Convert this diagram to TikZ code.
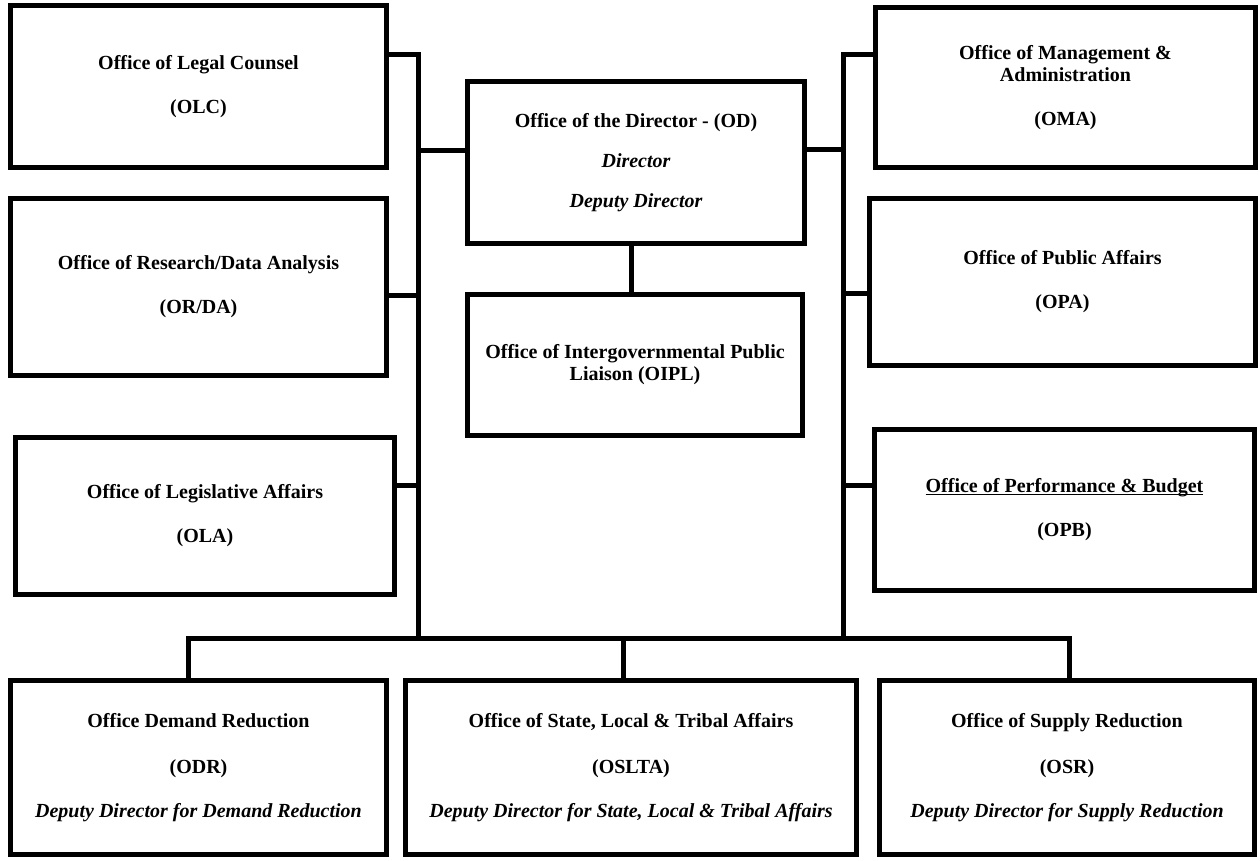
\documentclass[tikz,border=0pt]{standalone}
\usepackage{fontspec}
\setmainfont{Liberation Serif}
\usepackage{tikz}
\usetikzlibrary{positioning,calc}
\usepackage{xcolor}
\definecolor{ink}{HTML}{000000}
\definecolor{paper}{HTML}{FFFFFF}
\tikzset{
  office/.style={draw=ink,line width=5pt,fill=paper,align=center,inner sep=4pt,
    font=\fontsize{20}{22}\selectfont\bfseries},
  link/.style={draw=ink,line width=5pt},
  every node/.style={text=ink}
}

\begin{document}
\begin{tikzpicture}[x=1pt,y=-1pt]
\useasboundingbox (0,0) rectangle (1260,860);

% left column
\node[office,minimum width=376,minimum height=162] (olc) at (198.5,86.5) {Office of Legal Counsel\\[22pt](OLC)};
\node[office,minimum width=376,minimum height=177] (orda) at (198.5,287) {Office of Research/Data Analysis\\[22pt](OR/DA)};
\node[office,minimum width=379,minimum height=157] (ola) at (205,516) {Office of Legislative Affairs\\[22pt](OLA)};

% centre column
\node[office,minimum width=337,minimum height=162] (od) at (636,162.5) {Office of the Director - (OD)\\[18pt]\itshape Director\\[18pt]\itshape Deputy Director};
\node[office,minimum width=335,minimum height=141] (oipl) at (635,365) {Office of Intergovernmental Public\\Liaison (OIPL)};

% right column
\node[office,minimum width=380,minimum height=160] (oma) at (1065.5,87.5) {Office of Management \&\\Administration\\[22pt](OMA)};
\node[office,minimum width=386,minimum height=167] (opa) at (1062.5,282) {Office of Public Affairs\\[22pt](OPA)};
\node[office,minimum width=380,minimum height=161] (opb) at (1064.5,510) {\underline{\vphantom{O}\smash{Office of Performance \& Budget}}\\[22pt](OPB)};

% bottom row
\node[office,minimum width=376,minimum height=174] (odr) at (198.5,767.5) {Office Demand Reduction\\[24pt](ODR)\\[22pt]\itshape Deputy Director for Demand Reduction};
\node[office,minimum width=451,minimum height=174] (oslta) at (631,767.5) {Office of State, Local \& Tribal Affairs\\[24pt](OSLTA)\\[22pt]\itshape Deputy Director for State, Local \& Tribal Affairs};
\node[office,minimum width=375,minimum height=174] (osr) at (1067,767.5) {Office of Supply Reduction\\[24pt](OSR)\\[22pt]\itshape Deputy Director for Supply Reduction};

% buses
\coordinate (lt) at (418.5,54.5);
\coordinate (rt) at (843,54.5);
\coordinate (dl) at (188,638);
\coordinate (dm) at (623,638);
\coordinate (dr) at (1069,638);

\draw[link] (olc.east |- lt) -- (lt) -- (lt |- dl);
\draw[link] (orda.east |- 0,295) -- (lt |- 0,295);
\draw[link] (ola.east |- 0,485) -- (lt |- 0,485);
\draw[link] (lt |- 0,150) -- (od.west |- 0,150);
\draw[link] (od.east |- 0,149) -- (rt |- 0,149);
\draw[link] ([xshift=-5pt]od.south) -- ([xshift=-5pt]od.south |- oipl.north);
\draw[link] (oma.west |- rt) -- (rt) -- (rt |- dr);
\draw[link] (rt |- 0,293) -- (opa.west |- 0,293);
\draw[link] (rt |- 0,485) -- (opb.west |- 0,485);
\draw[link] (odr.north -| dl) -- (dl) -- (dr) -- (osr.north -| dr);
\draw[link] (dm) -- (oslta.north -| dm);
\end{tikzpicture}
\end{document}
